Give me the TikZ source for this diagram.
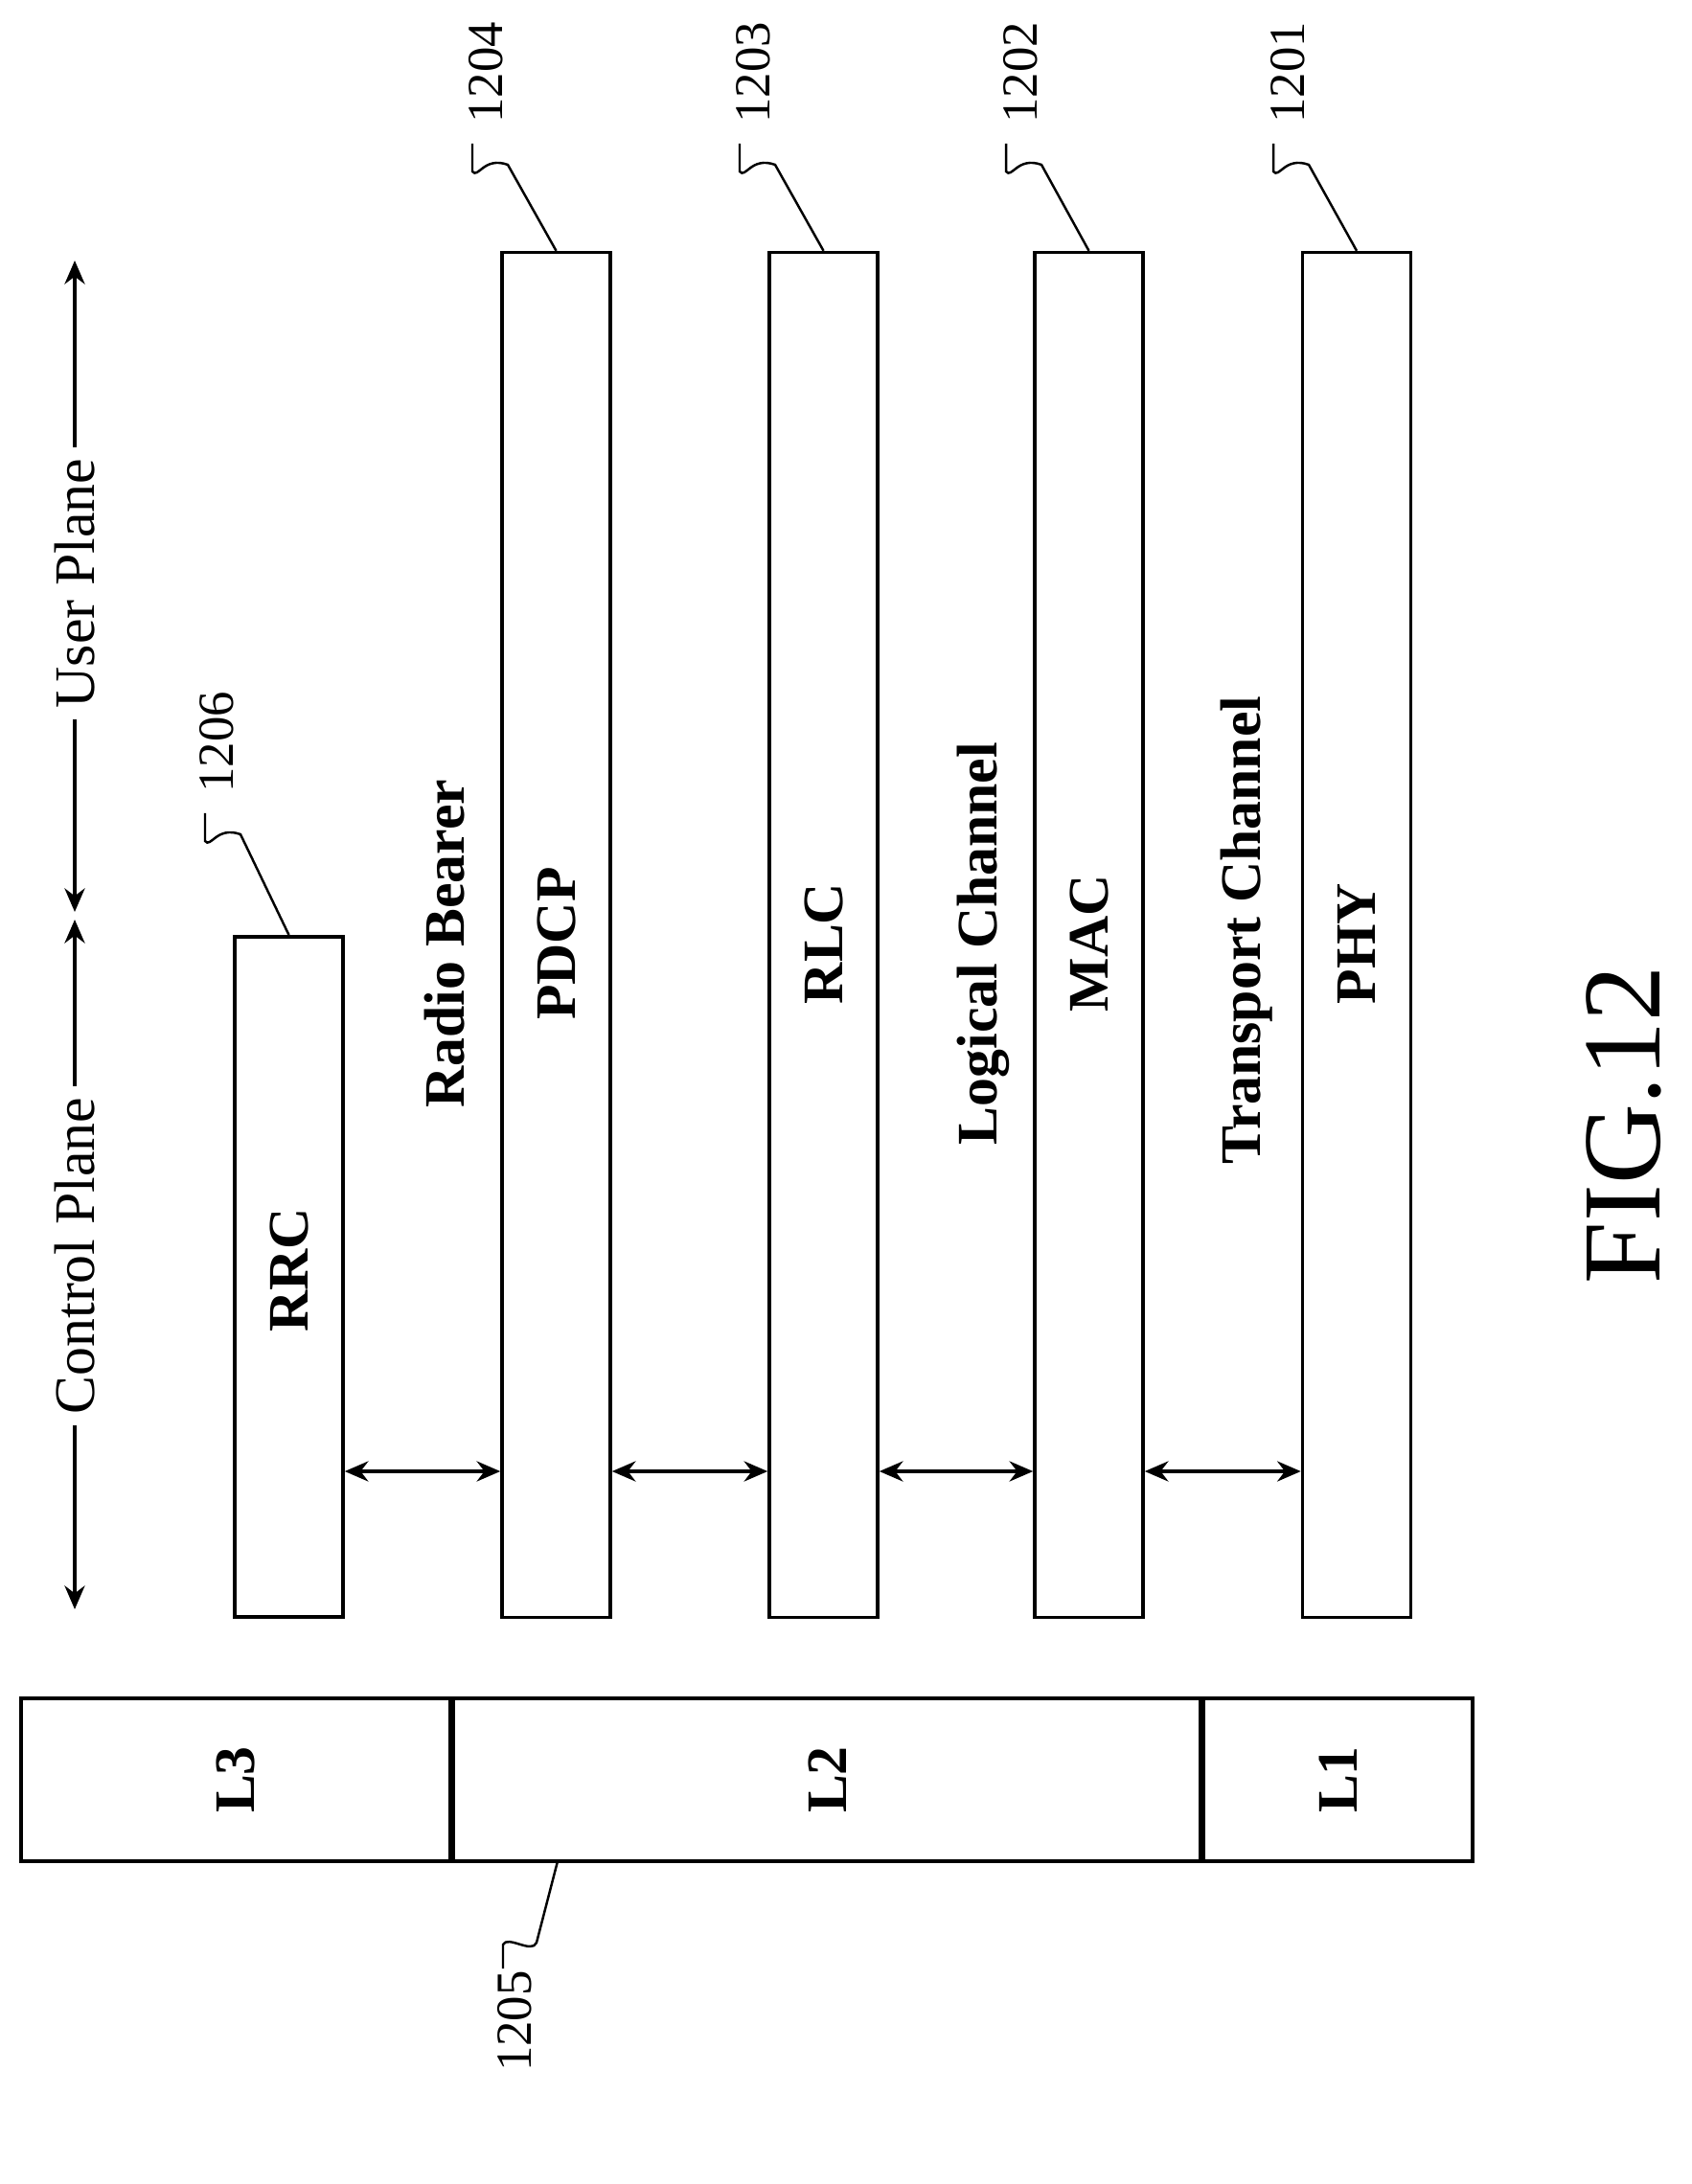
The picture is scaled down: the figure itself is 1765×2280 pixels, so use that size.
\documentclass[tikz,border=0pt]{standalone}
\usepackage{fontspec}
\setmainfont{Liberation Serif}
\usetikzlibrary{arrows.meta,positioning}
\tikzstyle{layer}=[rectangle, draw, line width=1pt, minimum width=1.13cm, minimum height=14.24cm, inner sep=0pt]
\tikzstyle{lbl}=[font=\fontsize{17}{17}\selectfont\bfseries, rotate=90]
\tikzstyle{refno}=[font=\fontsize{15}{15}\selectfont, rotate=90]
\tikzstyle{link}=[line width=1pt, {Stealth[length=7pt,width=6pt]}-{Stealth[length=7pt,width=6pt]}]

\begin{document}
\begin{tikzpicture}[x=0.01cm,y=-0.01cm]
\useasboundingbox (0,0) rectangle (1765,2280);

%Stack
\node[layer, minimum height=7.10cm](rrc) at (301.5,1333){};
\node[layer](pdcp) at (580.5,976){};
\node[layer](rlc) at (859.5,976){};
\node[layer](mac) at (1136.5,976){};
\node[layer](phy) at (1416,976){};
\node[lbl] (trrc) at (301.5,1326){RRC};
\node[lbl] (tpdcp) at (580.5,985){PDCP};
\node[lbl] (trlc) at (859.5,985){RLC};
\node[lbl] (tmac) at (1136.5,985){MAC};
\node[lbl] (tphy) at (1416,985){PHY};
\node[lbl] (rb) at (464,985){Radio Bearer};
\node[lbl] (lc) at (1026,985){Logical Channel};
\node[lbl] (tc) at (1301,971){Transport Channel};

%Links
\coordinate (ya) at (0,1536);
\draw[link] (rrc.east |- ya) -- (pdcp.west |- ya);
\draw[link] (pdcp.east |- ya) -- (rlc.west |- ya);
\draw[link] (rlc.east |- ya) -- (mac.west |- ya);
\draw[link] (mac.east |- ya) -- (phy.west |- ya);

%Planes
\coordinate (cpb) at (78,1680);
\coordinate (cpt) at (78,960);
\coordinate (upb) at (78,952);
\coordinate (upt) at (78,272);
\draw[link] (cpb) -- (cpt);
\draw[link] (upb) -- (upt);
\node[rotate=90, fill=white, font=\fontsize{17}{17}\selectfont] (cp) at (78,1311){Control Plane};
\node[rotate=90, fill=white, font=\fontsize{17}{17}\selectfont] (up) at (78,609){User Plane};

%Layers
\node[rectangle, draw, line width=1pt, minimum width=4.48cm, minimum height=1.70cm](l3) at (246,1858){};
\node[rectangle, draw, line width=1pt, minimum width=7.79cm, minimum height=1.70cm, right=0pt of l3](l2){};
\node[rectangle, draw, line width=1pt, minimum width=2.80cm, minimum height=1.70cm, right=0pt of l2](l1){};
\node[lbl] (tl3) at (l3){L3};
\node[lbl] (tl2) at (l2){L2};
\node[lbl] (tl1) at (l1){L1};

%Reference numbers
\node[refno] (n1206) at (226,775){1206};
\node[refno] (n1204) at (507,76){1204};
\node[refno] (n1203) at (786,76){1203};
\node[refno] (n1202) at (1065,76){1202};
\node[refno] (n1201) at (1344,76){1201};
\node[refno] (n1205) at (537,2110){1205};
\draw[line width=0.7pt] (214,849) -- (214,878) .. controls (220,886) and (226,862) .. (251,871) -- (rrc.north);
\foreach \b/\x in {pdcp/493,rlc/772,mac/1050,phy/1329}
  \draw[line width=0.7pt] (\x,150) -- (\x,179) .. controls (\x+6,187) and (\x+12,163) .. (\x+37,172) -- (\b.north);
\coordinate (c1205) at (582,1943);
\draw[line width=0.7pt] (c1205) -- (560,2028) .. controls (555,2040) and (530,2020) .. (525,2030) -- (525,2055);

\node[font=\fontsize{33}{33}\selectfont, rotate=90] (fig) at (1695,1174){FIG.12};
\end{tikzpicture}
\end{document}
